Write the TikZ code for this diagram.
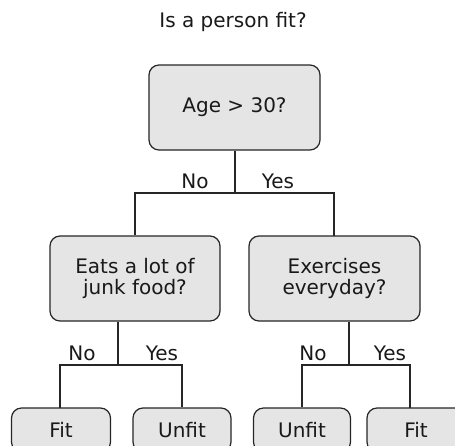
\documentclass[tikz,border=0pt]{standalone}
\usepackage{fontspec}
\setmainfont{DejaVu Sans}
\begin{document}
\begin{tikzpicture}[x=1pt,y=-1pt,
  every node/.style={font=\fontsize{20}{21.5}\selectfont, text=black!90},
  box/.style={draw=black!85, line width=1.2pt, fill=black!10, rounded corners=10pt,
    align=center, inner sep=0pt},
  wire/.style={draw=black!85, line width=1.2pt},
  lbl/.style={inner sep=0pt}]
\useasboundingbox (0,0) rectangle (455,445);
\clip (0,0) rectangle (455,445);

% title
\node (title) at (233,22) {Is a person fit?};

% decision nodes
\node[box, minimum width=171pt, minimum height=85pt] (root) at (234.5,107.5) {Age > 30?};
\node[box, minimum width=170pt, minimum height=85pt] (junk) at (135,278.5) {Eats a lot of\\junk food?};
\node[box, minimum width=171pt, minimum height=85pt] (exer) at (334.5,278.5) {Exercises\\everyday?};

% leaves
\node[box, minimum width=99pt, minimum height=44pt] (fitA) at (61,430) {Fit};
\node[box, minimum width=98pt, minimum height=44pt] (unfitA) at (182,430) {Unfit};
\node[box, minimum width=97pt, minimum height=44pt] (unfitB) at (302,430) {Unfit};
\node[box, minimum width=98pt, minimum height=44pt] (fitB) at (416,430) {Fit};

% split points
\coordinate (sroot) at (235,193);
\coordinate (sjunk) at (118,365);
\coordinate (sexer) at (349,365);
\coordinate (tfitA) at (60,408);
\coordinate (tfitB) at (410,408);
\coordinate (texer) at (334,236);

% connectors
\draw[wire] (root.south -| sroot) -- (sroot);
\draw[wire] (junk.north) |- (sroot) -| (texer);
\draw[wire] (junk.south -| sjunk) -- (sjunk);
\draw[wire] (tfitA) |- (sjunk) -| (unfitA.north);
\draw[wire] (exer.south -| sexer) -- (sexer);
\draw[wire] (unfitB.north) |- (sexer) -| (tfitB);

% branch labels
\node[lbl] (n1) at (195,181) {No};
\node[lbl] (y1) at (278,181) {Yes};
\node[lbl] (n2) at (82,353) {No};
\node[lbl] (y2) at (162,353) {Yes};
\node[lbl] (n3) at (313,353) {No};
\node[lbl] (y3) at (390,353) {Yes};
\end{tikzpicture}
\end{document}
